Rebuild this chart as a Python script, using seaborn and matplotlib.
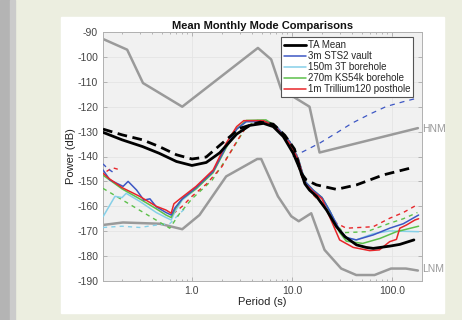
import numpy as np
import matplotlib
matplotlib.use("Agg")
import matplotlib.pyplot as plt
from matplotlib.patches import Rectangle
from matplotlib.lines import Line2D
import matplotlib.ticker as mticker
import seaborn as sns

# noise models (grey)
hnm_period = [0.129, 0.225, 0.324, 0.8, 4.57, 6.2, 7.8, 15.0, 18.9, 182.0]
hnm_db = [-92.8, -97.1, -110.5, -120.0, -96.4, -101.0, -113.0, -120.0, -138.4, -128.6]
lnm_period = [0.129, 0.204, 0.475, 0.8, 1.19, 2.2, 4.5, 4.93, 7.25, 9.85, 11.7, 15.6,
              21.2, 31.1, 44.0, 67.0, 98.0, 138.0, 182.0]
lnm_db = [-167.5, -166.5, -167.0, -169.2, -163.5, -148.0, -141.0, -141.0, -156.0, -164.0,
          -166.0, -162.8, -177.5, -185.0, -187.6, -187.6, -185.0, -185.0, -185.8]

# TA mean
ta_period = [0.129, 0.2, 0.32, 0.47, 0.7, 1.0, 1.39, 1.9, 2.8, 3.8, 5.2, 6.5, 8.2, 10.3,
             12.0, 13.5, 15.0, 17.6, 22.2, 27.9, 33.9, 44.3, 55.0, 65.0, 95.0, 120.0, 166.0]
ta_db = [-130.3, -133.3, -136.0, -138.7, -142.0, -143.6, -142.4, -138.5, -131.0, -127.5,
         -126.7, -128.0, -132.0, -138.7, -145.0, -151.0, -153.5, -156.0, -161.5, -168.2,
         -172.2, -175.5, -176.5, -176.9, -176.0, -175.3, -173.5]
ta_hi_period = [0.129, 0.2, 0.32, 0.47, 0.7, 1.0, 1.39, 1.9, 3.0, 4.8, 6.5, 8.5, 10.6,
                12.4, 13.9, 17.6, 27.9, 44.3, 82.0, 166.0]
ta_hi_db = [-129.0, -131.3, -133.3, -136.0, -139.3, -141.0, -140.2, -135.5, -128.7, -126.2,
            -127.0, -131.5, -137.0, -146.7, -149.4, -151.4, -153.2, -151.4, -147.4, -144.3]

# 3m STS2 vault
sts2_period = [0.129, 0.151, 0.205, 0.23, 0.28, 0.33, 0.38, 0.44, 0.55, 0.62, 0.68, 0.8,
               1.1, 1.63, 2.2, 2.8, 3.5, 5.5, 7.0, 9.5, 11.6, 13.5, 16.3, 20.0, 24.0,
               30.0, 35.0, 44.0, 65.0, 95.0, 130.0, 185.0]
sts2_db = [-145.4, -149.4, -152.0, -150.0, -153.5, -157.5, -157.0, -160.2, -162.5, -163.5,
           -160.5, -157.0, -152.5, -146.0, -136.0, -129.0, -126.0, -126.0, -128.0, -134.0,
           -141.0, -150.0, -153.5, -156.5, -162.0, -169.5, -172.5, -173.5, -171.5, -168.8,
           -167.0, -163.5]
sts2_hi_left_period = [0.129, 0.145, 0.165]
sts2_hi_left_db = [-143.0, -145.0, -146.5]
sts2_hi_period = [10.2, 13.0, 19.0, 28.0, 40.0, 60.0, 88.0, 130.0, 182.0]
sts2_hi_db = [-140.0, -138.0, -134.6, -130.5, -126.6, -123.0, -119.9, -118.0, -116.5]

# 150m 3T borehole
t3_period = [0.129, 0.17, 0.2, 0.22, 0.3, 0.44, 0.55, 0.62, 0.68, 0.8, 1.1, 1.63, 2.2,
             2.8, 3.5, 5.5, 7.0, 9.5, 11.6, 13.5, 16.3, 20.0, 24.0, 30.0, 35.0, 44.0,
             65.0, 95.0, 185.0]
t3_db = [-164.2, -156.0, -156.5, -154.8, -158.0, -162.5, -164.5, -165.5, -162.0, -157.5,
         -153.0, -146.0, -136.0, -129.0, -126.0, -125.8, -128.0, -134.0, -141.0, -150.0,
         -153.5, -156.5, -162.0, -169.5, -172.8, -173.5, -171.0, -169.9, -170.2]
t3_hi_period = [0.129, 0.2, 0.3, 0.45, 0.6, 0.75, 0.9]
t3_hi_db = [-168.5, -168.0, -168.5, -167.5, -167.0, -163.0, -160.0]

# 270m KS54k borehole
ks_period = [0.129, 0.2, 0.3, 0.44, 0.55, 0.62, 0.68, 0.8, 1.1, 1.63, 2.2, 2.8, 3.5,
             5.5, 7.0, 9.5, 11.6, 13.5, 16.3, 20.0, 24.0, 30.0, 35.0, 51.0, 76.0,
             111.0, 185.0]
ks_db = [-147.5, -153.0, -157.0, -161.0, -163.5, -164.5, -161.0, -157.0, -153.0, -146.5,
         -136.5, -129.0, -125.5, -125.3, -128.0, -134.0, -141.0, -150.0, -153.5, -156.5,
         -162.0, -170.5, -174.0, -174.9, -172.9, -170.2, -168.0]
ks_hi_period = [0.129, 0.6, 0.75, 1.0, 1.6, 2.4, 3.5, 4.5, 5.5, 7.0, 9.0, 11.0, 13.0,
                16.0, 20.0, 25.0, 32.5, 56.0, 95.0, 130.0, 180.0]
ks_hi_db = [-152.8, -168.8, -163.0, -157.0, -149.4, -138.7, -128.0, -125.5, -126.0,
            -128.5, -134.0, -141.0, -150.0, -155.0, -159.0, -164.5, -170.6, -170.2,
            -166.8, -165.0, -162.5]

# 1m Trillium120 posthole
tr_period = [0.129, 0.15, 0.2, 0.3, 0.44, 0.55, 0.62, 0.66, 0.76, 1.1, 1.63, 2.2, 2.8,
             3.3, 5.2, 6.8, 9.5, 11.6, 13.5, 16.3, 20.0, 23.0, 30.0, 41.0, 60.0, 75.0,
             95.0, 111.0, 120.0, 140.0, 170.0, 185.0]
tr_db = [-146.7, -149.0, -152.5, -156.0, -160.0, -161.5, -162.8, -159.0, -157.0, -152.0,
         -145.4, -134.7, -128.0, -125.6, -125.6, -128.0, -134.7, -141.4, -150.8, -154.1,
         -157.0, -162.8, -173.5, -176.5, -177.8, -177.5, -174.2, -173.3, -168.8, -167.5,
         -165.5, -165.0]
tr_hi_left_period = [0.14, 0.16, 0.185]
tr_hi_left_db = [-146.0, -144.5, -145.2]
tr_hi_period = [0.65, 0.8, 1.0, 1.4, 2.0, 2.8, 3.5, 4.5, 5.5, 7.0, 9.0, 11.0, 13.0, 16.0,
                20.0, 25.0, 28.0, 35.0, 65.0, 95.0, 130.0, 177.0]
tr_hi_db = [-163.0, -160.0, -156.0, -151.0, -144.0, -134.0, -128.0, -126.0, -126.0,
            -129.0, -134.0, -141.0, -150.0, -155.0, -159.0, -164.0, -166.8, -168.8,
            -168.2, -164.8, -162.5, -159.5]

legend_labels = ["TA Mean", "3m STS2 vault", "150m 3T borehole",
                 "270m KS54k borehole", "1m Trillium120 posthole"]

GREY = "#9a9a9a"
BLUE = "#3d57c4"
CYAN = "#86d0e8"
GREEN = "#5cc04a"
RED = "#e8262a"

sns.set_theme(style="ticks")
plt.rcParams["font.family"] = ["Liberation Sans", "DejaVu Sans"]

fig = plt.figure(figsize=(4.62, 3.2), dpi=100)
fig.patch.set_facecolor("#eceee0")
fig.patches.append(Rectangle((0, 0), 10 / 462, 1, transform=fig.transFigure,
                             color="#b4b4b4", zorder=-10))
fig.patches.append(Rectangle((10 / 462, 0), 5 / 462, 1, transform=fig.transFigure,
                             color="#cbcbcb", zorder=-10))
fig.patches.append(Rectangle((61 / 462, 7 / 320), 383 / 462, 296 / 320,
                             transform=fig.transFigure, color="white", zorder=-10))

ax = fig.add_axes([103 / 462, 39 / 320, 319 / 462, 249 / 320])
ax.set_zorder(5)
ax.set_facecolor("#f1f1f1")


def line(px, py, color, lw, dashes=None, z=2):
    kw = dict(x=px, y=py, ax=ax, color=color, linewidth=lw, sort=False,
              estimator=None, legend=False, zorder=z)
    l = sns.lineplot(**kw)
    if dashes is not None:
        l.lines[-1].set_dashes(dashes)


line(hnm_period, hnm_db, GREY, 1.8)
line(lnm_period, lnm_db, GREY, 1.8)

line(t3_hi_period, t3_hi_db, CYAN, 1.0, (3, 3), 3)
line(ks_hi_period, ks_hi_db, GREEN, 1.0, (3, 3), 3)
line(tr_hi_period, tr_hi_db, RED, 1.0, (3, 3), 3)
line(tr_hi_left_period, tr_hi_left_db, RED, 1.0, (3, 3), 3)
line(sts2_hi_left_period, sts2_hi_left_db, BLUE, 1.0, (3, 3), 3)
line(sts2_hi_period, sts2_hi_db, BLUE, 0.9, (4, 4), 3)

line(t3_period, t3_db, CYAN, 1.1, None, 4)
line(ks_period, ks_db, GREEN, 1.1, None, 4)
line(sts2_period, sts2_db, BLUE, 1.1, None, 4)
line(tr_period, tr_db, RED, 1.1, None, 4)

line(ta_period, ta_db, "black", 2.0, None, 5)
line(ta_hi_period, ta_hi_db, "black", 2.0, (3.5, 2), 5)

ax.set_xscale("log")
ax.set_xlim(0.129, 200)
ax.set_ylim(-190, -90)
ax.set_yticks(np.arange(-190, -89, 10))
ax.set_yticklabels([str(v) for v in range(-190, -89, 10)])
ax.set_xticks([1, 10, 100])
ax.set_xticklabels(["1.0", "10.0", "100.0"])
ax.xaxis.set_minor_locator(mticker.LogLocator(subs=np.arange(2, 10)))
ax.xaxis.set_minor_formatter(mticker.NullFormatter())
ax.grid(True, which="major", color="#e4e4e4", linewidth=0.6)
ax.tick_params(which="both", direction="in", top=True, right=True,
               colors="#aaaaaa", labelcolor="#444444", labelsize=7.5,
               length=3, width=0.6)
ax.tick_params(which="minor", length=1.5)
for s in ax.spines.values():
    s.set_color("#b0b0b0")
    s.set_linewidth(0.7)

ax.set_xlabel("Period (s)", fontsize=8, color="#222222", labelpad=1)
ax.set_ylabel("Power (dB)", fontsize=8, color="#222222", labelpad=1)
ax.set_title("Mean Monthly Mode Comparisons", fontsize=8, fontweight="bold",
             color="#111111", pad=2)

ax.text(1.0, -129, "HNM", transform=ax.get_yaxis_transform(), color=GREY,
        fontsize=7.5, va="center", ha="left")
ax.text(1.0, -185, "LNM", transform=ax.get_yaxis_transform(), color=GREY,
        fontsize=7.5, va="center", ha="left")

handles = [Line2D([], [], color="black", lw=2.0),
           Line2D([], [], color=BLUE, lw=1.1),
           Line2D([], [], color=CYAN, lw=1.1),
           Line2D([], [], color=GREEN, lw=1.1),
           Line2D([], [], color=RED, lw=1.1)]
leg = ax.legend(handles, legend_labels, loc="upper right", fontsize=7.0,
                frameon=True, fancybox=False, edgecolor="#555555",
                framealpha=1, facecolor="white", borderpad=0.3,
                labelspacing=0.1, handlelength=2.3, handletextpad=0.2,
                borderaxespad=0.4, bbox_to_anchor=(0.985, 0.995))
leg.get_frame().set_linewidth(0.8)
leg.set_zorder(10)

fig.savefig("out.png", dpi=100)
